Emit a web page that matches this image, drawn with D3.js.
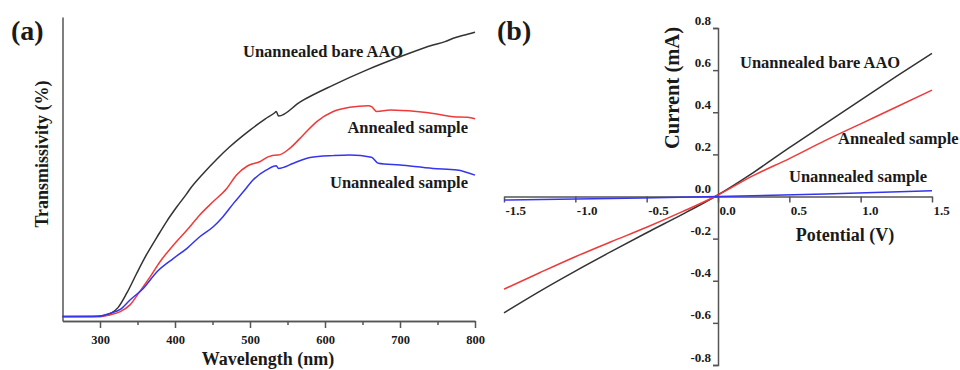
<!DOCTYPE html>
<html>
<head>
<meta charset="utf-8">
<script src="https://cdn.jsdelivr.net/npm/d3@7"></script>
<style>
  body { margin: 0; background: #fff; }
  svg { display: block; }
  text { font-family: "Liberation Serif", "Times New Roman", serif; font-weight: bold; fill: #1a1a1a; }
  .axis path, .axis line { stroke: #555; stroke-width: 1.5; }
</style>
</head>
<body>
<svg id="chart" width="960" height="370"></svg>
<script>

// ---- panel (a): transmissivity spectra, [wavelength nm, transmissivity a.u.]
const bareAAO_T = [[250,1.5],[290,1.5],[305,1.8],[315,2.6],[324,4.4],[336,9.3],[349,15.7],[362,21.8],
  [376,27.6],[389,32.8],[402,37.4],[416,42.0],[420,43.4],[438,48.6],[456,53.3],[473,57.3],[500,62.8],
  [520,66.4],[533,68.5],[535,68.9],[538,67.4],[567,72.1],[611,77.6],[656,82.6],[700,86.9],[744,90.8],
  [760,91.9],[771,93.0],[785,94.0],[800,95.0]];
const annealed_T = [[250,1.4],[300,1.4],[313,2.0],[327,3.1],[340,5.3],[353,9.7],[367,14.6],[380,19.5],
  [398,25.0],[416,29.9],[433,34.9],[451,39.3],[469,43.6],[482,48.0],[496,50.9],[500,51.4],[513,52.4],
  [524,54.0],[536,54.6],[538,54.6],[553,56.8],[571,61.2],[589,65.6],[611,68.9],[633,70.3],[658,70.8],
  [662,70.5],[669,68.9],[687,69.4],[722,68.9],[749,68.1],[771,67.2],[790,67.0],[800,66.5]];
const unannealed_T = [[250,1.5],[300,1.6],[313,2.5],[327,3.8],[340,6.9],[358,10.8],[376,16.2],[398,20.6],
  [416,23.9],[433,27.7],[451,31.0],[464,34.3],[478,38.7],[491,42.5],[504,46.4],[522,49.7],[535,51.1],
  [538,50.2],[558,51.9],[580,53.8],[611,54.4],[633,54.6],[662,53.9],[671,51.9],[700,51.3],[744,50.2],
  [776,49.7],[800,48.0]];
const wlTicks = [300,400,500,600,700,800];
const wlMinorTicks = [350,450,550,650,750];

// ---- panel (b): I-V curves, [potential V, current mA]
const bareAAO_IV = [[-1.5,-0.552],[-1.25,-0.45],[-1.0,-0.354],[-0.75,-0.262],[-0.5,-0.172],[-0.25,-0.085],
  [-0.02,0.0],[0.25,0.115],[0.5,0.232],[0.75,0.345],[1.0,0.458],[1.25,0.57],[1.5,0.68]];
const annealed_IV = [[-1.5,-0.44],[-1.25,-0.362],[-1.0,-0.286],[-0.75,-0.215],[-0.5,-0.146],[-0.25,-0.072],
  [-0.02,0.0],[0.25,0.1],[0.5,0.18],[0.75,0.265],[1.0,0.345],[1.25,0.425],[1.5,0.505]];
const unannealed_IV = [[-1.5,-0.017],[-0.75,-0.009],[0,0],[0.75,0.012],[1.5,0.027]];
const vTicks = [-1.5,-1.0,-0.5,0,0.5,1.0,1.5];
const iTicks = [-0.8,-0.6,-0.4,-0.2,0,0.2,0.4,0.6,0.8];

const seriesNames = ["Unannealed bare AAO", "Annealed sample", "Unannealed sample"];
const seriesColors = ["#333333", "#ee3a3a", "#3535ee"];


let svg = d3.select("#chart");

function add_text( g, text, x, y, size, anchor="start", rotate=0 ){
    g.append("text")
        .attr("text-anchor", anchor)
        .attr("transform", "translate(" + x + "," + y + ") rotate(" + rotate + ")")
        .style("font-size", size + "px")
        .text(text);
}

function draw_lines( g, x, y, sets ){
    let line = d3.line().curve(d3.curveMonotoneX).x(d => x(d[0])).y(d => y(d[1]));
    sets.forEach( function(s, i){
        g.append("path")
            .attr("d", line(s))
            .attr("fill", "none")
            .attr("stroke", seriesColors[i])
            .attr("stroke-width", 1.5)
            .attr("stroke-linejoin", "round");
    });
}


// ================= panel (a) =================
function draw_panel_a(){
    let g = svg.append("g");
    let x = d3.scaleLinear().domain([250, 800]).range([62.5, 475]);
    let y = d3.scaleLinear().domain([0, 100]).range([321, 17]);

    // minor ticks first, then major ticks with labels
    g.append("g").attr("class", "axis")
        .attr("transform", "translate(0," + y(0) + ")")
        .call( d3.axisBottom(x).tickValues(wlMinorTicks).tickSize(4).tickSizeOuter(0).tickFormat("") );
    let xa = g.append("g").attr("class", "axis")
        .attr("transform", "translate(0," + y(0) + ")")
        .call( d3.axisBottom(x).tickValues(wlTicks).tickSize(7).tickSizeOuter(0).tickFormat(d3.format("d")) );
    xa.selectAll("text").attr("y", 14).style("font-size", "12.5px").style("font-family", null);

    g.append("g").attr("class", "axis")
        .attr("transform", "translate(" + x(250) + ",0)")
        .call( d3.axisLeft(y).tickValues([]).tickSizeOuter(0) );

    draw_lines( g, x, y, [bareAAO_T, annealed_T, unannealed_T] );

    add_text( g, "(a)", 11, 40, 28 );
    add_text( g, "Wavelength (nm)", 268, 365, 18, "middle" );
    add_text( g, "Transmissivity (%)", 48, 154, 18, "middle", -90 );

    add_text( g, seriesNames[0], 243, 57, 16.5 );
    add_text( g, seriesNames[1], 468, 133, 16.5, "end" );
    add_text( g, seriesNames[2], 468, 188, 16.5, "end" );
}


// ================= panel (b) =================
function draw_panel_b(){
    let g = svg.append("g");
    let x = d3.scaleLinear().domain([-1.5, 1.5]).range([504, 932]);
    let y = d3.scaleLinear().domain([-0.8, 0.8]).range([365, 28]);
    let fmt = d => d.toFixed(1);

    let xa = g.append("g").attr("class", "axis")
        .attr("transform", "translate(0," + y(0) + ")")
        .call( d3.axisBottom(x).tickValues(vTicks).tickSize(6).tickSizeOuter(0).tickFormat(fmt) );
    xa.selectAll("text")
        .attr("text-anchor", "start").attr("x", 1).attr("y", 9)
        .style("font-size", "13px").style("font-family", null);

    let ya = g.append("g").attr("class", "axis")
        .attr("transform", "translate(" + x(0) + ",0)")
        .call( d3.axisLeft(y).tickValues(iTicks).tickSize(5).tickSizeOuter(5).tickFormat(fmt) );
    ya.selectAll("text")
        .attr("x", -7).attr("dy", "-0.3em")
        .style("font-size", "13px").style("font-family", null);

    draw_lines( g, x, y, [bareAAO_IV, annealed_IV, unannealed_IV] );

    add_text( g, "(b)", 497, 40, 28 );
    add_text( g, "Potential (V)", 845, 241, 18, "middle" );
    add_text( g, "Current (mA)", 679, 88, 20.5, "middle", -90 );

    add_text( g, seriesNames[0], 740, 68, 16.5 );
    add_text( g, seriesNames[1], 838, 144, 16.5 );
    add_text( g, seriesNames[2], 927, 182, 16.5, "end" );
}


draw_panel_a();
draw_panel_b();

</script>
</body>
</html>
